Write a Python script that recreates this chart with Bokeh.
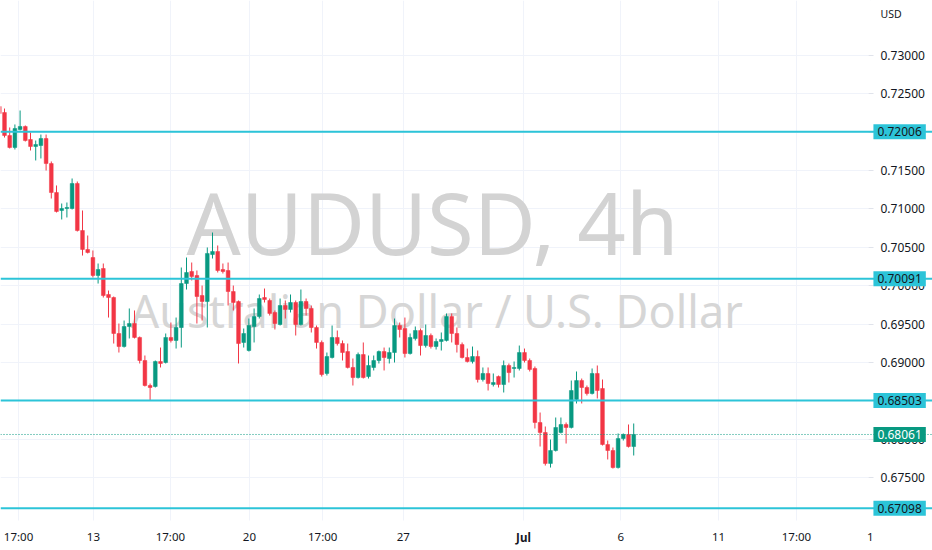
import numpy as np
from bokeh.plotting import figure
from bokeh.models import (Range1d, FixedTicker, Span, Label, BoxAnnotation, LinearAxis,
                          NumeralTickFormatter, CustomJSTickFormatter, ColumnDataSource)
from bokeh.embed import file_html
from bokeh.resources import INLINE

# ---- data: AUDUSD 4h candles (index -1 .. 121) ----
opens = [0.72335, 0.72257, 0.71957, 0.71801, 0.72036, 0.72075, 0.71905, 0.71814, 0.71827, 0.71918,
         0.71592, 0.71214, 0.70980, 0.71006, 0.71006, 0.71332, 0.70719, 0.70472, 0.70367, 0.70133,
         0.70224, 0.69885, 0.69846, 0.69377, 0.69207, 0.69468, 0.69507, 0.69325, 0.69025, 0.68699,
         0.68686, 0.69012, 0.68999, 0.69325, 0.69286, 0.69455, 0.70028, 0.70185, 0.70133, 0.69872,
         0.69794, 0.70406, 0.70446, 0.70211, 0.70198, 0.69924, 0.69794, 0.69260, 0.69155, 0.69468,
         0.69598, 0.69846, 0.69807, 0.69651, 0.69494, 0.69742, 0.69690, 0.69781, 0.69494, 0.69794,
         0.69703, 0.69455, 0.69260, 0.68856, 0.69064, 0.69325, 0.69246, 0.69142, 0.68934, 0.68803,
         0.69103, 0.68816, 0.68934, 0.69025, 0.69142, 0.69051, 0.69129, 0.69481, 0.69442, 0.69116,
         0.69312, 0.69416, 0.69220, 0.69351, 0.69207, 0.69273, 0.69286, 0.69598, 0.69377, 0.69233,
         0.69064, 0.69012, 0.69077, 0.68777, 0.68856, 0.68712, 0.68816, 0.68712, 0.68960, 0.68921,
         0.68921, 0.69129, 0.69025, 0.68921, 0.68217, 0.68087, 0.67683, 0.67852, 0.68087, 0.68191,
         0.68152, 0.68517, 0.68764, 0.68673, 0.68595, 0.68856, 0.68660, 0.67930, 0.67852, 0.67630,
         0.68008, 0.68061, 0.67904]
highs = [0.72374, 0.72309, 0.72062, 0.72101, 0.72283, 0.72088, 0.71996, 0.71892, 0.71970, 0.71970,
         0.71619, 0.71306, 0.71071, 0.71084, 0.71397, 0.71358, 0.70980, 0.70654, 0.70459, 0.70289,
         0.70289, 0.69937, 0.69859, 0.69507, 0.69546, 0.69703, 0.69677, 0.69338, 0.69090, 0.68725,
         0.69025, 0.69194, 0.69377, 0.69520, 0.69585, 0.70237, 0.70367, 0.70302, 0.70198, 0.70002,
         0.70498, 0.70693, 0.70524, 0.70289, 0.70302, 0.70002, 0.69807, 0.69442, 0.69572, 0.69703,
         0.69885, 0.69963, 0.69833, 0.69677, 0.69833, 0.69807, 0.69885, 0.69807, 0.69950, 0.69833,
         0.69742, 0.69481, 0.69286, 0.69129, 0.69481, 0.69416, 0.69286, 0.69246, 0.69051, 0.69129,
         0.69260, 0.69090, 0.69090, 0.69155, 0.69194, 0.69194, 0.69572, 0.69520, 0.69585, 0.69377,
         0.69468, 0.69442, 0.69494, 0.69377, 0.69312, 0.69390, 0.69638, 0.69638, 0.69455, 0.69260,
         0.69181, 0.69207, 0.69155, 0.68934, 0.68934, 0.68856, 0.68829, 0.69025, 0.68986, 0.69012,
         0.69220, 0.69181, 0.69051, 0.68947, 0.68347, 0.68165, 0.67995, 0.68282, 0.68282, 0.68217,
         0.68764, 0.68882, 0.68790, 0.68699, 0.68921, 0.68960, 0.68777, 0.67982, 0.67891, 0.68074,
         0.68074, 0.68191, 0.68204]
lows = [0.72218, 0.71931, 0.71788, 0.71775, 0.72023, 0.71879, 0.71762, 0.71632, 0.71658, 0.71501,
        0.71136, 0.70954, 0.70863, 0.70889, 0.70993, 0.70706, 0.70393, 0.70420, 0.70107, 0.70028,
        0.69846, 0.69585, 0.69246, 0.69129, 0.69194, 0.69312, 0.69312, 0.68986, 0.68686, 0.68504,
        0.68673, 0.68934, 0.68986, 0.69260, 0.69181, 0.69194, 0.69950, 0.70068, 0.69507, 0.69546,
        0.69455, 0.70354, 0.70172, 0.70159, 0.69742, 0.69677, 0.68986, 0.69194, 0.69142, 0.69260,
        0.69572, 0.69781, 0.69611, 0.69429, 0.69481, 0.69572, 0.69651, 0.69351, 0.69481, 0.69611,
        0.69390, 0.69181, 0.68816, 0.68829, 0.69051, 0.69220, 0.69025, 0.68921, 0.68699, 0.68790,
        0.68790, 0.68790, 0.68895, 0.68986, 0.68895, 0.68986, 0.68999, 0.69325, 0.69064, 0.69103,
        0.69286, 0.69090, 0.69194, 0.69181, 0.69168, 0.69155, 0.69273, 0.69260, 0.69129, 0.69051,
        0.68999, 0.68986, 0.68738, 0.68751, 0.68634, 0.68686, 0.68673, 0.68608, 0.68738, 0.68803,
        0.68895, 0.68999, 0.68882, 0.68139, 0.67904, 0.67656, 0.67630, 0.67839, 0.68074, 0.67943,
        0.68139, 0.68465, 0.68465, 0.68569, 0.68582, 0.68530, 0.67917, 0.67735, 0.67617, 0.67617,
        0.67982, 0.67891, 0.67787]
closes = [0.72244, 0.71957, 0.71801, 0.72049, 0.72075, 0.71892, 0.71814, 0.71840, 0.71918, 0.71592,
          0.71214, 0.70967, 0.71006, 0.71019, 0.71332, 0.70719, 0.70472, 0.70433, 0.70133, 0.70211,
          0.69872, 0.69846, 0.69377, 0.69207, 0.69468, 0.69507, 0.69325, 0.69025, 0.68699, 0.68673,
          0.69012, 0.68986, 0.69325, 0.69286, 0.69455, 0.70028, 0.70172, 0.70120, 0.69859, 0.69794,
          0.70420, 0.70446, 0.70198, 0.70185, 0.69924, 0.69781, 0.69246, 0.69377, 0.69481, 0.69598,
          0.69833, 0.69820, 0.69638, 0.69507, 0.69742, 0.69690, 0.69781, 0.69494, 0.69794, 0.69703,
          0.69455, 0.69260, 0.68842, 0.69077, 0.69325, 0.69246, 0.69129, 0.68934, 0.68803, 0.69103,
          0.68803, 0.68960, 0.69025, 0.69142, 0.69064, 0.69129, 0.69481, 0.69429, 0.69116, 0.69325,
          0.69416, 0.69220, 0.69351, 0.69207, 0.69273, 0.69299, 0.69598, 0.69377, 0.69233, 0.69064,
          0.69012, 0.69077, 0.68777, 0.68856, 0.68725, 0.68738, 0.68712, 0.68960, 0.68868, 0.68934,
          0.69129, 0.69025, 0.68908, 0.68217, 0.68087, 0.67683, 0.67852, 0.68152, 0.68191, 0.68152,
          0.68634, 0.68764, 0.68673, 0.68595, 0.68856, 0.68634, 0.67930, 0.67852, 0.67630, 0.68008,
          0.68061, 0.67904, 0.68061]
first_index = -1

levels = [0.72006, 0.70091, 0.68503, 0.67098]
price_ticks = [0.675, 0.680, 0.685, 0.690, 0.695, 0.700, 0.705, 0.710, 0.715, 0.720, 0.725, 0.730]
time_tick_pos = [2.7, 17.1, 31.9, 47.1, 61.2, 76.7, 99.8, 118.5, 137.3, 152.3, 166.5]
time_tick_labels = ["17:00", "13", "17:00", "20", "17:00", "27", "Jul", "6", "11", "17:00", "1"]
symbol = "AUDUSD, 4h"
description = "Australian Dollar / U.S. Dollar"
currency = "USD"

# ---- styling ----
GREEN = "#089981"
RED = "#f23645"
CYAN = "#2cc4d8"
TEXT = "#131722"
GRID = "#f0f3fa"
FONT = "Noto Sans"

n = len(opens)
idx = np.arange(first_index, first_index + n)
o = np.array(opens); c = np.array(closes); h = np.array(highs); l = np.array(lows)
up = c >= o
src = ColumnDataSource(dict(
    x=idx, top=np.maximum(o, c), bottom=np.minimum(o, c), high=h, low=l,
    color=[GREEN if u else RED for u in up]))

# whole canvas is the frame; scale: 5.2 px per candle, 7673 px per price unit
X0, X1 = -0.77, 178.46
Y0, Y1 = 0.665488, 0.737168
AX_X = 166.15      # where the price scale starts
AX_Y = 0.669397    # where the time scale starts

p = figure(width=932, height=550, x_range=Range1d(X0, X1), y_range=Range1d(Y0, Y1),
           x_axis_location=None, y_axis_location=None, output_backend="svg",
           toolbar_location=None, background_fill_color="white", border_fill_color="white",
           min_border=0)
p.outline_line_color = None

xt = FixedTicker(ticks=time_tick_pos)
yt = FixedTicker(ticks=price_ticks)
p.xgrid.ticker = xt
p.ygrid.ticker = yt
p.xgrid.grid_line_color = GRID
p.ygrid.grid_line_color = GRID

# blank the scale areas (hide grid there)
p.add_layout(BoxAnnotation(left=AX_X, fill_color="white", fill_alpha=1, line_color=None, level="underlay"))
p.add_layout(BoxAnnotation(top=AX_Y, fill_color="white", fill_alpha=1, line_color=None, level="underlay"))

# axes placed at fixed locations
yaxis = LinearAxis(ticker=yt, fixed_location=AX_X, formatter=NumeralTickFormatter(format="0.00000"))
yaxis.axis_line_color = None
yaxis.major_tick_line_color = "#e0e3eb"
yaxis.major_tick_out = 5
yaxis.major_tick_in = 0
yaxis.minor_tick_line_color = None
yaxis.major_label_standoff = 7
yaxis.major_label_text_font = FONT
yaxis.major_label_text_font_size = "12px"
yaxis.major_label_text_color = TEXT
p.add_layout(yaxis, "right")

xaxis = LinearAxis(ticker=xt, fixed_location=AX_Y)
xaxis.axis_line_color = None
xaxis.major_tick_line_color = None
xaxis.minor_tick_line_color = None
xaxis.major_label_standoff = 2
xaxis.major_label_text_font = FONT
xaxis.major_label_text_font_size = "11.5px"
xaxis.major_label_text_color = TEXT
xaxis.formatter = CustomJSTickFormatter(
    args=dict(pos=time_tick_pos, labels=time_tick_labels),
    code="""
    let best = 0, d = 1e9;
    for (let i = 0; i < pos.length; i++) { const e = Math.abs(pos[i] - tick); if (e < d) { d = e; best = i; } }
    const s = labels[best];
    return s == "Jul" ? "" : s;
    """)
p.add_layout(xaxis, "below")

# watermark
p.add_layout(Label(x=82.3, y=0.70836, text=symbol, text_align="center",
                   text_baseline="middle", text_font=FONT, text_font_size="85px",
                   text_color="#d3d3d3", level="underlay"))
p.add_layout(Label(x=83.1, y=0.69677, text=description, text_align="center",
                   text_baseline="middle", text_font=FONT, text_font_size="45px",
                   text_color="#d6d6d6", level="underlay"))

# levels
for lv in levels:
    p.add_layout(Span(location=lv, dimension="width", line_color=CYAN, line_width=2))
last = closes[-1]
p.add_layout(Span(location=last, dimension="width", line_color=GREEN, line_width=1, line_dash="1 2"))

# candles
p.segment(x0="x", x1="x", y0="low", y1="high", color="color", line_width=1, source=src)
p.vbar(x="x", width=0.72, top="top", bottom="bottom", fill_color="color", line_color="color",
       line_width=0.5, source=src)

# price-scale labels
box_x = 167.1
for lv in levels:
    p.add_layout(Label(x=box_x, y=lv, text=f"{lv:.5f}", text_align="left", text_baseline="middle",
                       text_font=FONT, text_font_size="12px", text_color=TEXT,
                       background_fill_color=CYAN, padding=(4, 3)))
p.add_layout(Label(x=box_x, y=last, text=f"{last:.5f}", text_align="left", text_baseline="middle",
                   text_font=FONT, text_font_size="12px", text_color="white",
                   background_fill_color=GREEN, padding=(4, 3)))
p.add_layout(Label(x=168.46, y=0.73547, text=currency, text_align="left", text_baseline="middle",
                   text_font=FONT, text_font_size="10.5px", text_color=TEXT))

# bold month label on the time scale
p.add_layout(Label(x=time_tick_pos[6], y=0.66810, text="Jul", text_align="center", text_baseline="top",
                   text_font=FONT, text_font_size="11.5px", text_font_style="bold", text_color=TEXT))

open("out.html", "w").write(file_html(p, INLINE))
